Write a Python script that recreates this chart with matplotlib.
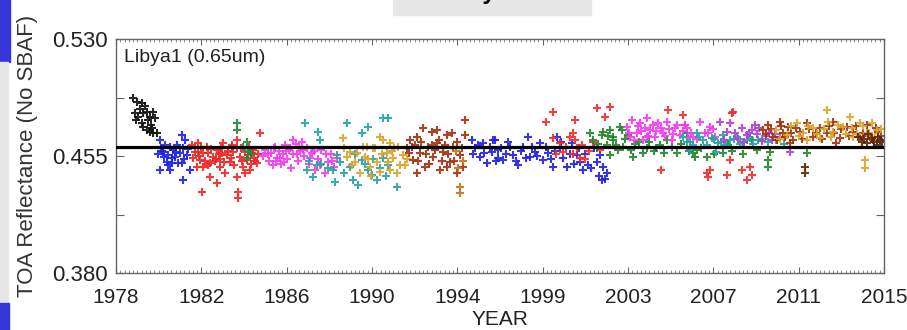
import numpy as np
import matplotlib
matplotlib.use("Agg")
from matplotlib import pyplot as plt
from matplotlib.patches import Rectangle

plt.rcParams['font.family'] = ['Liberation Sans', 'DejaVu Sans']

# --- per-satellite TOA reflectance samples (year, reflectance) ---
tirosn_yr = [1978.83, 1979.00, 1979.24, 1978.92, 1979.07, 1979.32, 1979.48, 1979.64, 1979.80,
             1979.56, 1979.32, 1979.48, 1979.64, 1979.80, 1979.96, 1979.24, 1979.88, 1978.95,
             1979.15, 1979.70, 1979.75, 1979.40]
tirosn_refl = [0.4920, 0.4898, 0.4888, 0.4824, 0.4802, 0.4824, 0.4834, 0.4802, 0.4834,
               0.4781, 0.4738, 0.4717, 0.4706, 0.4696, 0.4696, 0.4760, 0.4792, 0.4780,
               0.4850, 0.4750, 0.4730, 0.4870]

n06_yr = [1980.12, 1980.36, 1980.60, 1980.76, 1980.52, 1980.28, 1980.68, 1980.12, 1980.60, 1981.16,
          1981.32, 1981.24, 1981.08, 1981.40, 1981.16, 1981.24, 1981.56, 1980.92, 1980.44, 1980.84,
          1980.00, 1980.20, 1980.30, 1980.50, 1980.90, 1981.00, 1981.45, 1980.15, 1980.70, 1981.30]
n06_refl = [0.4653, 0.4621, 0.4610, 0.4588, 0.4556, 0.4578, 0.4535, 0.4460, 0.4460, 0.4685,
            0.4653, 0.4599, 0.4567, 0.4556, 0.4503, 0.4396, 0.4460, 0.4621, 0.4514, 0.4546,
            0.4560, 0.4580, 0.4545, 0.4490, 0.4575, 0.4505, 0.4595, 0.4600, 0.4505, 0.4530]

n07_yr = [1981.65, 1981.81, 1981.96, 1982.05, 1982.21, 1982.37, 1982.53, 1982.69, 1982.85, 1983.01,
          1983.17, 1983.33, 1983.49, 1983.65, 1983.81, 1983.97, 1984.13, 1984.30, 1984.45, 1984.61,
          1984.78, 1984.94, 1982.53, 1982.85, 1982.13, 1983.89, 1983.89, 1983.81, 1981.89, 1983.25,
          1984.21, 1984.54, 1983.57, 1982.00, 1982.80, 1983.10, 1984.00, 1984.70, 1982.45, 1981.70,
          1981.95, 1982.10, 1982.30, 1982.45, 1982.60, 1982.75, 1982.95, 1983.05, 1983.20, 1983.40,
          1983.55, 1983.70, 1983.85, 1984.05, 1984.20, 1984.35, 1984.50, 1984.65, 1984.85, 1982.20,
          1983.00, 1983.60, 1984.40]
n07_refl = [0.4621, 0.4578, 0.4631, 0.4524, 0.4567, 0.4610, 0.4503, 0.4546, 0.4588, 0.4482,
            0.4631, 0.4556, 0.4514, 0.4578, 0.4653, 0.4546, 0.4482, 0.4524, 0.4460, 0.4588,
            0.4503, 0.4695, 0.4417, 0.4375, 0.4321, 0.4321, 0.4279, 0.4417, 0.4482, 0.4439,
            0.4439, 0.4567, 0.4621, 0.4550, 0.4530, 0.4570, 0.4600, 0.4520, 0.4490, 0.4540,
            0.4575, 0.4605, 0.4520, 0.4570, 0.4595, 0.4515, 0.4560, 0.4600, 0.4510, 0.4585,
            0.4540, 0.4495, 0.4600, 0.4515, 0.4575, 0.4555, 0.4500, 0.4540, 0.4565, 0.4480,
            0.4530, 0.4605, 0.4610]

n08_yr = [1983.81, 1983.81, 1984.30, 1984.35, 1984.30, 1984.10, 1984.50]
n08_refl = [0.4760, 0.4717, 0.4642, 0.4580, 0.4540, 0.4610, 0.4560]

n09_yr = [1985.10, 1985.20, 1985.35, 1985.45, 1985.55, 1985.65, 1985.75, 1985.85, 1985.95, 1986.05,
          1986.15, 1986.25, 1986.35, 1986.45, 1986.55, 1986.65, 1986.75, 1986.85, 1986.95, 1987.05,
          1987.20, 1987.30, 1987.45, 1987.60, 1987.75, 1987.90, 1988.05, 1988.20, 1988.35, 1988.50,
          1988.65, 1986.54, 1985.30, 1985.60, 1985.90, 1986.10, 1986.40, 1986.70, 1987.00, 1987.35,
          1987.55, 1987.85, 1988.10, 1988.40, 1985.70, 1986.20, 1986.80]
n09_refl = [0.4550, 0.4590, 0.4520, 0.4570, 0.4490, 0.4610, 0.4540, 0.4580, 0.4500, 0.4560,
            0.4620, 0.4530, 0.4590, 0.4470, 0.4560, 0.4630, 0.4520, 0.4580, 0.4640, 0.4550,
            0.4600, 0.4500, 0.4570, 0.4460, 0.4530, 0.4590, 0.4440, 0.4510, 0.4560, 0.4480,
            0.4540, 0.4653, 0.4565, 0.4600, 0.4540, 0.4510, 0.4600, 0.4560, 0.4590, 0.4540,
            0.4585, 0.4490, 0.4560, 0.4520, 0.4520, 0.4580, 0.4610]

n10_yr = [1987.19, 1987.50, 1987.67, 1987.83, 1988.47, 1988.55, 1988.63, 1989.27, 1989.43, 1989.67,
          1989.84, 1989.84, 1990.15, 1990.32, 1990.56, 1990.88, 1991.12, 1991.52, 1987.10, 1987.75,
          1989.11, 1990.15, 1990.88, 1991.12, 1987.30, 1987.90, 1988.20, 1988.80, 1989.00, 1989.50,
          1990.00, 1990.40, 1990.70, 1991.00]
n10_refl = [0.4460, 0.4417, 0.4492, 0.4653, 0.4460, 0.4385, 0.4556, 0.4482, 0.4396, 0.4364,
            0.4695, 0.4524, 0.4460, 0.4428, 0.4396, 0.4535, 0.4492, 0.4353, 0.4760, 0.4706,
            0.4760, 0.4738, 0.4792, 0.4792, 0.4520, 0.4500, 0.4470, 0.4510, 0.4440, 0.4560,
            0.4500, 0.4530, 0.4470, 0.4420]

n11_yr = [1988.95, 1989.11, 1989.27, 1989.51, 1989.75, 1989.99, 1990.24, 1990.39, 1990.56, 1990.72,
          1990.88, 1991.04, 1991.20, 1991.36, 1991.52, 1991.68, 1991.84, 1990.72, 1990.08, 1991.20,
          1989.00, 1989.35, 1989.60, 1989.90, 1990.15, 1990.50, 1990.80, 1991.10, 1991.30, 1991.60,
          1991.90, 1992.00, 1990.30, 1991.40]
n11_refl = [0.4663, 0.4546, 0.4578, 0.4514, 0.4439, 0.4546, 0.4482, 0.4599, 0.4514, 0.4450,
            0.4653, 0.4567, 0.4460, 0.4535, 0.4439, 0.4492, 0.4556, 0.4674, 0.4610, 0.4631,
            0.4600, 0.4490, 0.4570, 0.4610, 0.4530, 0.4600, 0.4560, 0.4510, 0.4580, 0.4610,
            0.4490, 0.4530, 0.4420, 0.4600]

n12_yr = [1992.00, 1992.16, 1992.32, 1992.48, 1992.64, 1992.80, 1992.88, 1993.04, 1993.21, 1993.28,
          1993.45, 1993.61, 1993.77, 1993.93, 1994.09, 1994.25, 1994.41, 1994.57, 1994.73, 1994.81,
          1994.81, 1994.17, 1993.45, 1992.48, 1993.93, 1992.10, 1992.25, 1992.55, 1992.70, 1992.95,
          1993.10, 1993.35, 1993.55, 1993.70, 1993.85, 1994.00, 1994.30, 1994.45, 1994.65, 1992.40,
          1993.20]
n12_refl = [0.4599, 0.4653, 0.4524, 0.4674, 0.4567, 0.4728, 0.4482, 0.4610, 0.4706, 0.4546,
            0.4631, 0.4460, 0.4578, 0.4685, 0.4514, 0.4610, 0.4439, 0.4556, 0.4482, 0.4781,
            0.4685, 0.4695, 0.4717, 0.4439, 0.4482, 0.4570, 0.4610, 0.4520, 0.4640, 0.4560,
            0.4500, 0.4590, 0.4650, 0.4520, 0.4620, 0.4560, 0.4520, 0.4640, 0.4600, 0.4620,
            0.4620]

n12b_yr = [1994.57, 1994.55, 1994.50, 1994.70, 1994.40]
n12b_refl = [0.4313, 0.4350, 0.4470, 0.4520, 0.4580]

n14_yr = [1995.13, 1995.29, 1995.53, 1995.69, 1995.85, 1996.10, 1996.26, 1996.42, 1996.18, 1996.42,
          1996.66, 1996.90, 1997.14, 1997.38, 1997.62, 1997.86, 1997.94, 1998.18, 1998.42, 1998.58,
          1998.82, 1999.06, 1999.23, 1999.39, 1999.55, 1999.71, 1999.95, 2000.19, 2000.35, 2000.51,
          2000.75, 2001.31, 2001.47, 2001.64, 2001.40, 2001.15, 1995.20, 1995.45, 1995.75, 1996.00,
          1996.30, 1996.55, 1996.80, 1997.00, 1997.25, 1997.50, 1997.75, 1998.05, 1998.30, 1998.70,
          1998.95, 1999.15, 1999.45, 1999.85, 2000.05, 2000.30, 2000.60, 2000.90, 2001.05, 2001.25,
          2001.55]
n14_refl = [0.4653, 0.4599, 0.4546, 0.4631, 0.4503, 0.4578, 0.4653, 0.4535, 0.4653, 0.4588,
            0.4524, 0.4642, 0.4556, 0.4492, 0.4610, 0.4674, 0.4546, 0.4578, 0.4631, 0.4524,
            0.4567, 0.4482, 0.4674, 0.4599, 0.4535, 0.4482, 0.4631, 0.4556, 0.4514, 0.4460,
            0.4492, 0.4556, 0.4482, 0.4439, 0.4396, 0.4514, 0.4560, 0.4620, 0.4570, 0.4610,
            0.4520, 0.4600, 0.4560, 0.4610, 0.4520, 0.4580, 0.4540, 0.4610, 0.4550, 0.4610,
            0.4530, 0.4580, 0.4640, 0.4560, 0.4500, 0.4600, 0.4560, 0.4470, 0.4600, 0.4420,
            0.4400]

n15_yr = [1999.06, 1999.39, 1999.55, 2000.03, 2000.19, 2000.35, 1999.87, 2000.11, 1998.74, 1999.06,
          2000.11, 2001.15, 2001.55, 2001.80, 2004.28, 2006.45, 2006.53, 2007.42, 2008.38, 2008.62,
          2006.61, 2007.58, 2008.14, 2008.54, 2005.33, 2007.66, 2005.41, 2004.60, 2007.74, 1999.20,
          1999.70, 2000.00, 2000.45, 2000.60, 2000.80, 2001.00, 2001.30]
n15_refl = [0.4663, 0.4631, 0.4578, 0.4695, 0.4599, 0.4535, 0.4674, 0.4653, 0.4770, 0.4834,
            0.4781, 0.4856, 0.4802, 0.4866, 0.4460, 0.4439, 0.4417, 0.4428, 0.4396, 0.4428,
            0.4460, 0.4524, 0.4460, 0.4482, 0.4813, 0.4824, 0.4749, 0.4845, 0.4834, 0.4560,
            0.4610, 0.4560, 0.4620, 0.4530, 0.4580, 0.4640, 0.4590]

n16_yr = [2000.99, 2001.15, 2001.40, 2001.64, 2001.80, 2001.96, 2002.20, 2002.36, 2001.80, 2000.83,
          2001.47, 2001.96, 2002.28, 2002.44, 2002.68, 2002.92, 2003.57, 2004.53, 2005.01, 2005.49,
          2005.97, 2006.45, 2005.81, 2005.89, 2007.25, 2007.49, 2008.62, 2009.42, 2009.42, 2009.50,
          2011.27, 2003.20, 2003.90, 2004.20, 2001.20, 2001.70, 2002.10, 2002.50, 2002.80, 2003.00,
          2003.40, 2003.70, 2004.00, 2004.40, 2004.80, 2005.20, 2005.60, 2006.20, 2006.80, 2007.70,
          2008.20, 2008.90]
n16_refl = [0.4653, 0.4599, 0.4685, 0.4621, 0.4556, 0.4674, 0.4588, 0.4717, 0.4717, 0.4695,
            0.4706, 0.4653, 0.4738, 0.4610, 0.4685, 0.4546, 0.4599, 0.4653, 0.4567, 0.4695,
            0.4588, 0.4546, 0.4567, 0.4546, 0.4567, 0.4621, 0.4653, 0.4524, 0.4482, 0.4578,
            0.4567, 0.4640, 0.4580, 0.4620, 0.4630, 0.4680, 0.4620, 0.4660, 0.4590, 0.4630,
            0.4570, 0.4640, 0.4600, 0.4570, 0.4610, 0.4630, 0.4580, 0.4600, 0.4560, 0.4580,
            0.4560, 0.4590]

n17_yr = [2002.60, 2002.84, 2003.08, 2003.24, 2003.40, 2003.56, 2003.72, 2003.96, 2004.12, 2004.36,
          2004.53, 2004.77, 2004.93, 2005.17, 2005.41, 2005.57, 2002.76, 2003.56, 2005.49, 2005.81,
          2006.13, 2006.37, 2006.61, 2006.85, 2002.70, 2002.95, 2003.15, 2003.30, 2003.50, 2003.65,
          2003.85, 2004.00, 2004.25, 2004.45, 2004.65, 2004.85, 2005.05, 2005.30, 2005.70, 2006.00,
          2006.50, 2006.75]
n17_refl = [0.4738, 0.4781, 0.4695, 0.4760, 0.4653, 0.4792, 0.4717, 0.4674, 0.4760, 0.4695,
            0.4770, 0.4653, 0.4728, 0.4685, 0.4749, 0.4674, 0.4674, 0.4674, 0.4728, 0.4674,
            0.4770, 0.4695, 0.4738, 0.4674, 0.4700, 0.4650, 0.4740, 0.4710, 0.4730, 0.4680,
            0.4750, 0.4710, 0.4730, 0.4680, 0.4720, 0.4690, 0.4750, 0.4710, 0.4700, 0.4660,
            0.4700, 0.4720]

n18_yr = [2005.33, 2005.65, 2005.97, 2006.29, 2006.69, 2007.01, 2007.25, 2007.58, 2007.90, 2008.22,
          2008.54, 2008.94, 2005.65, 2006.93, 2005.50, 2005.80, 2006.10, 2006.45, 2006.80, 2007.15,
          2007.40, 2007.75, 2008.05, 2008.40, 2008.70, 2009.10, 2009.40, 2009.80, 2010.20]
n18_refl = [0.4674, 0.4642, 0.4695, 0.4653, 0.4663, 0.4631, 0.4685, 0.4653, 0.4674, 0.4642,
            0.4663, 0.4653, 0.4588, 0.4578, 0.4640, 0.4620, 0.4670, 0.4620, 0.4660, 0.4640,
            0.4620, 0.4660, 0.4630, 0.4650, 0.4630, 0.4660, 0.4640, 0.4650, 0.4630]

metop_pur_yr = [2007.09, 2007.42, 2007.58, 2007.82, 2008.14, 2008.38, 2008.62, 2008.78, 2008.90, 2009.10,
                2009.30, 2009.60, 2010.00, 2010.47, 2007.30, 2007.95, 2008.25, 2008.50, 2009.00, 2009.45,
                2009.75]
metop_pur_refl = [0.4770, 0.4706, 0.4760, 0.4695, 0.4728, 0.4685, 0.4717, 0.4749, 0.4690, 0.4645,
                  0.4680, 0.4655, 0.4670, 0.4578, 0.4650, 0.4660, 0.4640, 0.4700, 0.4730, 0.4700,
                  0.4690]

n19_yr = [2009.18, 2009.42, 2009.66, 2009.98, 2010.14, 2010.38, 2010.62, 2010.95, 2011.27, 2011.59,
          2011.91, 2012.23, 2012.55, 2012.87, 2013.20, 2013.52, 2013.84, 2014.16, 2014.48, 2014.72,
          2012.71, 2010.47, 2009.30, 2009.55, 2009.85, 2010.05, 2010.25, 2010.50, 2010.75, 2011.05,
          2011.40, 2011.70, 2012.00, 2012.35, 2012.60, 2012.95, 2013.30, 2013.65, 2014.00, 2014.30,
          2014.60, 2014.85]
n19_refl = [0.4717, 0.4749, 0.4674, 0.4770, 0.4695, 0.4738, 0.4653, 0.4706, 0.4760, 0.4674,
            0.4728, 0.4695, 0.4770, 0.4663, 0.4738, 0.4706, 0.4674, 0.4749, 0.4653, 0.4706,
            0.4631, 0.4631, 0.4690, 0.4720, 0.4650, 0.4740, 0.4670, 0.4700, 0.4730, 0.4660,
            0.4720, 0.4700, 0.4660, 0.4740, 0.4700, 0.4720, 0.4680, 0.4740, 0.4700, 0.4680,
            0.4730, 0.4680]

metop_a_yr = [2009.82, 2010.31, 2010.79, 2011.11, 2011.59, 2011.91, 2012.23, 2012.31, 2012.55, 2013.04,
              2013.36, 2013.52, 2013.84, 2014.16, 2014.40, 2014.64, 2011.27, 2014.08, 2014.08, 2010.00,
              2010.50, 2010.90, 2011.35, 2011.75, 2012.10, 2012.45, 2012.80, 2013.15, 2013.45, 2013.70,
              2014.00, 2014.30, 2014.55, 2014.85]
metop_a_refl = [0.4717, 0.4685, 0.4760, 0.4695, 0.4728, 0.4663, 0.4845, 0.4770, 0.4706, 0.4738,
                0.4802, 0.4674, 0.4760, 0.4695, 0.4760, 0.4717, 0.4653, 0.4524, 0.4473, 0.4660,
                0.4740, 0.4680, 0.4740, 0.4690, 0.4720, 0.4670, 0.4750, 0.4690, 0.4730, 0.4690,
                0.4740, 0.4700, 0.4670, 0.4720]

metop_b_yr = [2013.92, 2014.16, 2014.40, 2014.64, 2014.80, 2011.19, 2011.19, 2014.05, 2014.25, 2014.50,
              2014.70, 2014.90, 2013.75]
metop_b_refl = [0.4642, 0.4631, 0.4663, 0.4621, 0.4653, 0.4482, 0.4439, 0.4660, 0.4690, 0.4640,
                0.4670, 0.4640, 0.4670]

series = [
    (tirosn_yr, tirosn_refl, '#101010'),
    (n06_yr, n06_refl, '#2020e6'),
    (n07_yr, n07_refl, '#f02424'),
    (n08_yr, n08_refl, '#1f8a3a'),
    (n09_yr, n09_refl, '#f23cf2'),
    (n10_yr, n10_refl, '#27a2a8'),
    (n11_yr, n11_refl, '#d9a42a'),
    (n12_yr, n12_refl, '#a3300f'),
    (n12b_yr, n12b_refl, '#c8701a'),
    (n14_yr, n14_refl, '#2020e6'),
    (n15_yr, n15_refl, '#f02c2c'),
    (n16_yr, n16_refl, '#22862a'),
    (n17_yr, n17_refl, '#f23cf2'),
    (n18_yr, n18_refl, '#27a2a8'),
    (metop_pur_yr, metop_pur_refl, '#b040d0'),
    (n19_yr, n19_refl, '#a3300f'),
    (metop_a_yr, metop_a_refl, '#d9a42a'),
    (metop_b_yr, metop_b_refl, '#5a2408'),
]

mean_refl = 0.461

tick_years = np.linspace(1978, 2015, 10)
tick_labels = ['1978', '1982', '1986', '1990', '1994', '1999', '2003', '2007', '2011', '2015']
ytick_vals = [0.380, 0.455, 0.530]

fig = plt.figure(figsize=(9.07, 3.30), dpi=100)
ax = fig.add_axes([116 / 907, 57 / 330, 768 / 907, 234 / 330])

for yr, refl, col in series:
    ax.plot(yr, refl, linestyle='none', marker='+', color=col,
            markersize=6, markeredgewidth=1.5, alpha=0.9)

ax.axhline(mean_refl, color='black', linewidth=2.3, zorder=5)

ax.set_xlim(1978, 2015)
ax.set_ylim(0.380, 0.530)
ax.set_xticks(tick_years)
ax.set_xticklabels(tick_labels)
ax.set_xticks(np.linspace(1978, 2015, 181), minor=True)
ax.set_yticks(ytick_vals)
ax.set_yticklabels(['%.3f' % v for v in ytick_vals])
ax.set_yticks([0.4175, 0.4925], minor=True)

for sp in ax.spines.values():
    sp.set_color('#666666')
    sp.set_linewidth(1.0)

ax.tick_params(axis='x', which='major', direction='in', length=4, width=0.8,
               color='#666666', top=True, labelsize=15, labelcolor='#222222', pad=11)
ax.tick_params(axis='x', which='minor', direction='in', length=2, width=0.6,
               color='#777777', top=True)
ax.tick_params(axis='y', which='both', direction='in', length=6, width=0.8,
               color='#666666', right=True, labelsize=16, labelcolor='#222222', pad=6)

ax.set_xlabel('YEAR', fontsize=15, color='#222222', labelpad=2)
ax.set_ylabel('TOA Reflectance (No SBAF)', fontsize=16, color='#333333', labelpad=10)
ax.text(0.011, 0.92, 'Libya1 (0.65um)', transform=ax.transAxes, fontsize=14,
        color='#222222', va='center', ha='left')

# frame decorations around the panel
fig.patches.append(Rectangle((0, 1 - 62 / 330), 10 / 907, 62 / 330, transform=fig.transFigure,
                             color='#3535d8', zorder=0))
fig.patches.append(Rectangle((0, 27 / 330), 8 / 907, (303 - 62) / 330, transform=fig.transFigure,
                             color='#e6e6e6', zorder=0))
fig.patches.append(Rectangle((0, 0), 9 / 907, 27 / 330, transform=fig.transFigure,
                             color='#3535d8', zorder=0))
fig.patches.append(Rectangle((393 / 907, 1 - 15 / 330), 198 / 907, 15 / 330,
                             transform=fig.transFigure, color='#e6e6e6', zorder=0))
fig.text(447 / 907, 1 + 1.5 / 330, 'Libya1', fontsize=17, fontweight='bold',
         ha='left', va='baseline', color='black')

fig.savefig('out.png', dpi=100)
